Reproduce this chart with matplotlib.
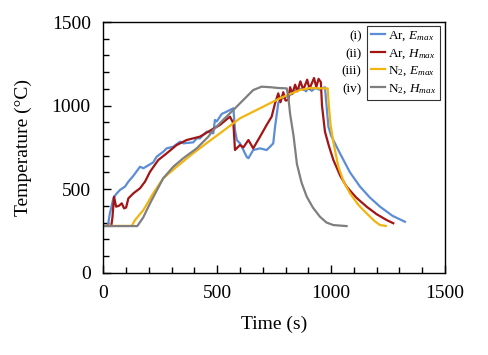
import matplotlib
matplotlib.use("Agg")
import matplotlib.pyplot as plt
from matplotlib.ticker import MultipleLocator

plt.rcParams['font.family'] = ['Liberation Serif', 'DejaVu Serif']
plt.rcParams['mathtext.fontset'] = 'custom'
plt.rcParams['mathtext.rm'] = 'Liberation Serif'
plt.rcParams['mathtext.it'] = 'Liberation Serif:italic'

# Ar, E_max
t_ar_e = [0, 20, 28, 44, 56, 73, 95, 110, 132, 161, 176, 219, 234, 263, 278, 307, 337, 351, 395, 410,
          424, 454, 483, 490, 498, 520, 542, 571, 578, 586, 600, 615, 629, 637, 658, 688, 717, 732, 746,
          754, 768, 783, 790, 820, 849, 878, 890, 900, 915, 930, 950, 973, 988, 1000, 1039, 1083, 1127,
          1170, 1215, 1270, 1324]
T_ar_e = [280, 280, 350, 445, 470, 495, 515, 545, 580, 634, 625, 660, 694, 724, 744, 754, 784, 774, 780, 804,
          804, 844, 834, 914, 905, 950, 964, 984, 854, 794, 774, 734, 694, 685, 734, 744, 734, 754, 774,
          874, 1014, 1053, 1044, 1063, 1093, 1103, 1085, 1105, 1088, 1105, 1095, 1110, 874, 820, 714, 600, 515,
          450, 395, 340, 305]

# Ar, H_max
t_ar_h = [0, 35, 40, 47, 56, 68, 81, 91, 100, 110, 132, 161, 183, 205, 241, 278, 322, 366, 424, 461,
          512, 556, 571, 578, 600, 615, 637, 658, 688, 717, 739, 754, 768, 778, 790, 800, 812, 820, 830,
          842, 852, 865, 878, 895, 905, 925, 935, 945, 955, 960, 973, 990, 1010, 1040, 1068, 1110, 1156,
          1200, 1244, 1273]
T_ar_h = [280, 280, 330, 455, 395, 400, 415, 385, 390, 445, 475, 505, 545, 604, 674, 714, 764, 794, 814, 844,
          884, 934, 894, 734, 764, 750, 794, 744, 814, 884, 934, 1014, 1073, 1020, 1080, 1030, 1034, 1110, 1070,
          1125, 1085, 1145, 1095, 1155, 1100, 1165, 1110, 1160, 1140, 1000, 844, 760, 674, 580, 515, 450, 395,
          350, 315, 296]

# N2, E_max
t_n2_e = [0, 125, 139, 176, 219, 263, 322, 395, 468, 512, 600, 688, 776, 863, 907, 950, 985, 990, 998,
          1010, 1032, 1055, 1083, 1120, 1156, 1190, 1215, 1240]
T_n2_e = [280, 280, 315, 375, 475, 565, 634, 715, 790, 834, 924, 984, 1044, 1093, 1105, 1103, 1103, 1000, 880,
          780, 634, 545, 475, 405, 355, 310, 285, 280]

# N2, H_max
t_n2_h = [0, 149, 175, 205, 263, 307, 351, 410, 461, 483, 530, 571, 615, 658, 695, 732, 770, 805, 812,
          820, 835, 850, 870, 893, 920, 951, 980, 1010, 1068]
T_n2_h = [279, 279, 330, 415, 565, 634, 685, 744, 814, 854, 920, 974, 1034, 1093, 1113, 1110, 1105, 1103, 1053,
          950, 820, 650, 540, 455, 390, 335, 300, 285, 279]

series = [
    (t_ar_e, T_ar_e, '#5b8ed6', 'Ar, $E_{max}$'),
    (t_ar_h, T_ar_h, '#a31515', 'Ar, $H_{max}$'),
    (t_n2_e, T_n2_e, '#f2b50f', 'N$_2$, $E_{max}$'),
    (t_n2_h, T_n2_h, '#7f7f7f', 'N$_2$, $H_{max}$'),
]
tags = ['(i)', '(ii)', '(iii)', '(iv)']

fig = plt.figure(figsize=(4.89, 3.55), dpi=100)
ax = fig.add_axes([0.2113, 0.2318, 0.6987, 0.7062])

for t, T, c, lab in series:
    ax.plot(t, T, color=c, lw=1.6, label=lab)

ax.set_xlim(0, 1500)
ax.set_ylim(0, 1500)
ax.xaxis.set_major_locator(MultipleLocator(500))
ax.xaxis.set_minor_locator(MultipleLocator(100))
ax.yaxis.set_major_locator(MultipleLocator(500))
ax.yaxis.set_minor_locator(MultipleLocator(100))
ax.tick_params(which='both', direction='in', top=False, right=False, labelsize=14)
ax.tick_params(which='major', length=6, width=1, pad=9)
ax.tick_params(which='minor', length=4.5, width=1)
for s in ax.spines.values():
    s.set_linewidth(1)
ax.set_xlabel('Time (s)', fontsize=14, labelpad=10)
ax.set_ylabel('Temperature (°C)', fontsize=14, labelpad=14)

leg = ax.legend(loc='upper right', bbox_to_anchor=(0.985, 0.985), fontsize=9.5, frameon=True,
                fancybox=False, edgecolor='black', handlelength=1.1, handletextpad=0.2,
                borderpad=0.3, labelspacing=0.3, borderaxespad=0)
leg.get_frame().set_linewidth(0.8)

fig.canvas.draw()
for txt, tag in zip(leg.get_texts(), tags):
    bb = txt.get_window_extent()
    x0 = leg.get_window_extent().x0
    xa, ya = fig.transFigure.inverted().transform((x0 - 5, (bb.y0 + bb.y1) / 2))
    fig.text(xa, ya, tag, ha='right', va='center', fontsize=9.5)

fig.savefig('out.png', dpi=100)
